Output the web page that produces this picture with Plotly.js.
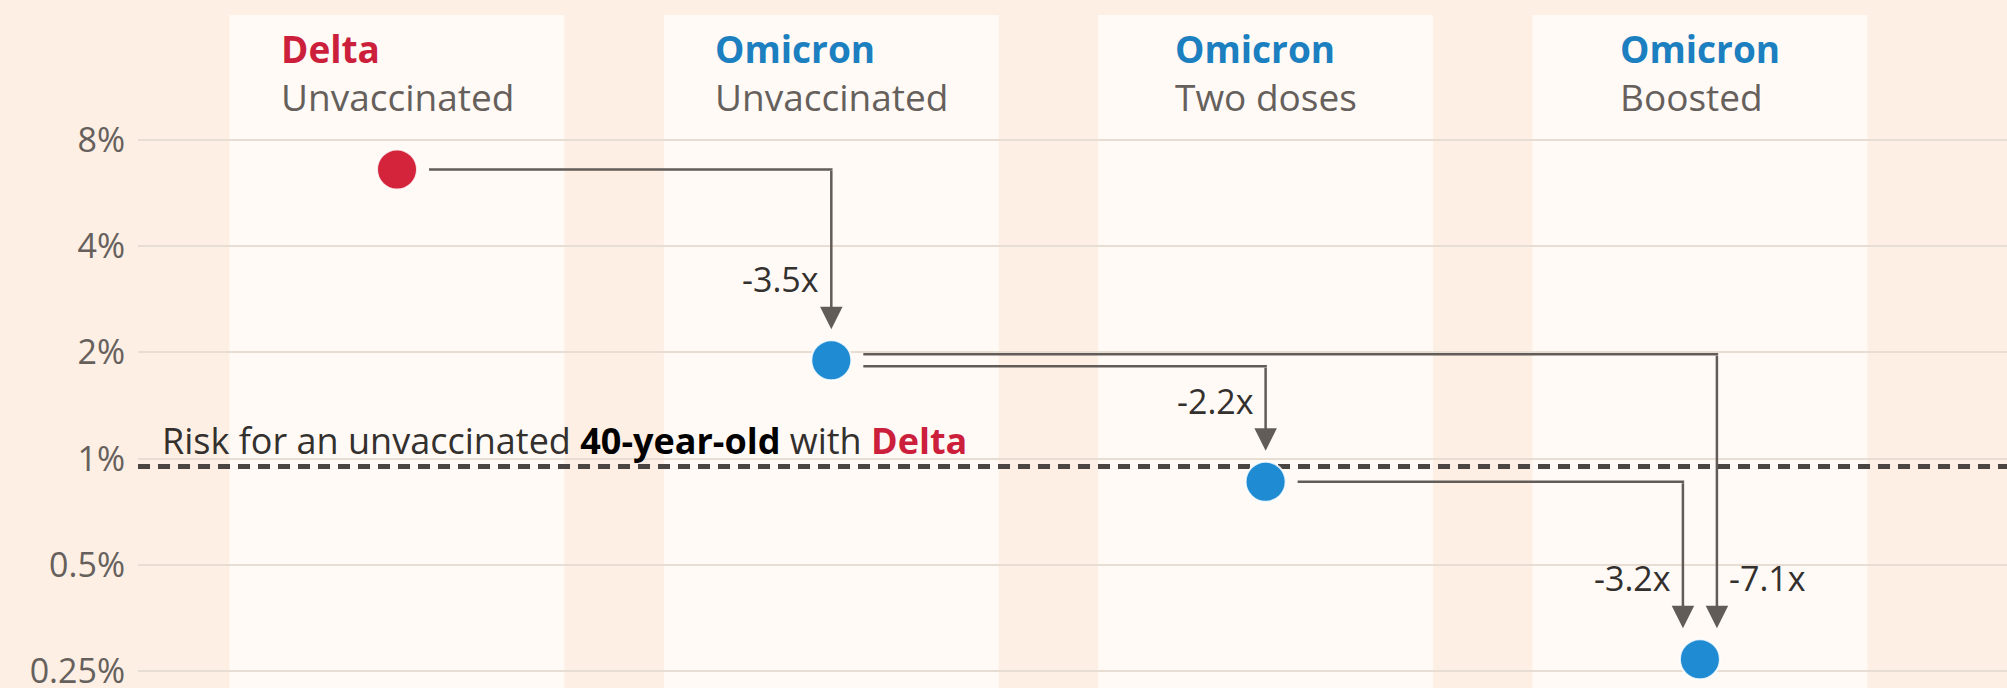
<!DOCTYPE html>
<html><head><meta charset="utf-8">
<script src="https://cdn.plot.ly/plotly-3.0.1.min.js"></script>
<style>html,body{margin:0;padding:0;background:#fdefe4;} #chart{width:2007px;height:688px;}</style>
</head><body><div id="chart"></div>
<script>
// ---------------- data ----------------
const variants = ['Delta', 'Omicron', 'Omicron', 'Omicron'];
const groups = ['Unvaccinated', 'Unvaccinated', 'Two doses', 'Boosted'];
const riskPct = [6.6, 1.9, 0.86, 0.27];
const benchmarkRisk = 0.95;
const benchmarkText = ['Risk for an unvaccinated ', '40-year-old', ' with ', 'Delta'];
const stepFrom = [0, 1, 2, 1];
const stepTo = [1, 2, 3, 3];
const stepLabels = ['-3.5x', '-2.2x', '-3.2x', '-7.1x'];
const tickValues = [0.25, 0.5, 1, 2, 4, 8];
const tickLabels = ['0.25%', '0.5%', '1%', '2%', '4%', '8%'];

// ---------------- style / layout ----------------
const W = 2007, H = 688, ML = 138;
const xRange = [-0.5964, 3.7071];
const yRange = [-0.6502, 1.2999];
const pxPerX = (W - ML) / (xRange[1] - xRange[0]);
const pxPerDec = H / (yRange[1] - yRange[0]);
const xOff = px => px / pxPerX;
const yShiftPx = (v, pxUp) => v * Math.pow(10, pxUp / pxPerDec);
const L10 = Math.log10;

const FONT = '"Open Sans", sans-serif';
const RED = '#d3243b', BLUE = '#1e8bd3';
const variantColor = {Delta: '#cc1f3c', Omicron: '#1b7fc0'};
const ARROW = '#625c58';
const lineUp = [0, -6, 0, 6];      // px offset (up) of horizontal line from source dot centre
const cornerDx = [0, 0, -17, 17];  // px offset of vertical leg from target dot centre
const labelSide = ['left', 'left', 'left', 'right'];
const startGap = 32, tipGap = 31;
const bandHalf = 0.3857;
const HEAD_SIZE = 37;

const xs = riskPct.map((_, i) => i);
const traces = [];
const annotations = [];

stepFrom.forEach((f, k) => {
  const t = stepTo[k];
  const yLine = yShiftPx(riskPct[f], lineUp[k]);
  const xc = t + xOff(cornerDx[k]);
  traces.push({
    type: 'scatter', mode: 'lines',
    x: [f + xOff(startGap), xc + xOff(1.25)], y: [yLine, yLine],
    line: {color: ARROW, width: 2.5}, hoverinfo: 'skip', showlegend: false
  });
  const yTip = yShiftPx(riskPct[t], tipGap);
  annotations.push({
    xref: 'x', yref: 'y', axref: 'x', ayref: 'y',
    x: xc, y: L10(yTip), ax: xc, ay: L10(yLine),
    text: '', showarrow: true, arrowhead: 2, arrowsize: 1.8, arrowwidth: 2.5,
    arrowcolor: ARROW, standoff: 0
  });
  const left = labelSide[k] === 'left';
  annotations.push({
    xref: 'x', yref: 'y', x: xc, y: L10(yTip),
    text: stepLabels[k], showarrow: false,
    xanchor: left ? 'right' : 'left', xshift: left ? -10 : 10,
    yanchor: 'middle', yshift: 50,
    font: {family: FONT, size: 34, color: '#33302e'}
  });
});

traces.push({
  type: 'scatter', mode: 'markers', x: xs, y: riskPct,
  marker: {size: 40, color: variants.map(v => v === 'Delta' ? RED : BLUE),
           line: {color: 'rgba(255,255,255,0.85)', width: 2}},
  hoverinfo: 'skip', showlegend: false
});

variants.forEach((v, i) => {
  annotations.push({
    xref: 'x', yref: 'paper', x: i, y: 1 - 73 / H,
    xanchor: 'center', yanchor: 'middle', align: 'left', showarrow: false,
    text: `<b><span style="color:${variantColor[v]}">${v}</span></b><br>${groups[i]}`,
    font: {family: FONT, size: HEAD_SIZE, color: '#66605c'}
  });
});

annotations.push({
  xref: 'paper', yref: 'y', x: 0, xshift: 22, y: L10(benchmarkRisk),
  xanchor: 'left', yanchor: 'bottom', yshift: -1, showarrow: false,
  text: `${benchmarkText[0]}<b><span style="color:#000">${benchmarkText[1]}</span></b>${benchmarkText[2]}<b><span style="color:${variantColor.Delta}">${benchmarkText[3]}</span></b>`,
  font: {family: FONT, size: 36, color: '#33302e'}
});

const shapes = xs.map(i => ({
  type: 'rect', xref: 'x', yref: 'paper', x0: i - bandHalf, x1: i + bandHalf,
  y0: 0, y1: 1 - 15 / H, fillcolor: '#fffaf6', line: {width: 0}, layer: 'below'
}));
shapes.push({
  type: 'line', xref: 'paper', yref: 'y', x0: 0, x1: 1, y0: benchmarkRisk, y1: benchmarkRisk,
  line: {color: '#4a4542', width: 5, dash: '12px,8px'}, layer: 'between'
});

const layout = {
  width: W, height: H,
  margin: {l: ML, r: 0, t: 0, b: 0, pad: 0},
  paper_bgcolor: '#fdefe4', plot_bgcolor: 'rgba(0,0,0,0)',
  showlegend: false, hovermode: false,
  font: {family: FONT},
  xaxis: {range: xRange, visible: false, fixedrange: true},
  yaxis: {
    type: 'log', range: yRange, tickvals: tickValues, ticktext: tickLabels,
    showgrid: true, gridcolor: '#e8ddd3', gridwidth: 2, zeroline: false, showline: false,
    ticks: '', ticklabelstandoff: 12, ticklabeloverflow: 'allow',
    tickfont: {family: FONT, size: 34, color: '#66605c'},
    fixedrange: true
  },
  shapes: shapes,
  annotations: annotations
};

Plotly.newPlot('chart', traces, layout, {staticPlot: true, displayModeBar: false});
</script>
</body></html>
